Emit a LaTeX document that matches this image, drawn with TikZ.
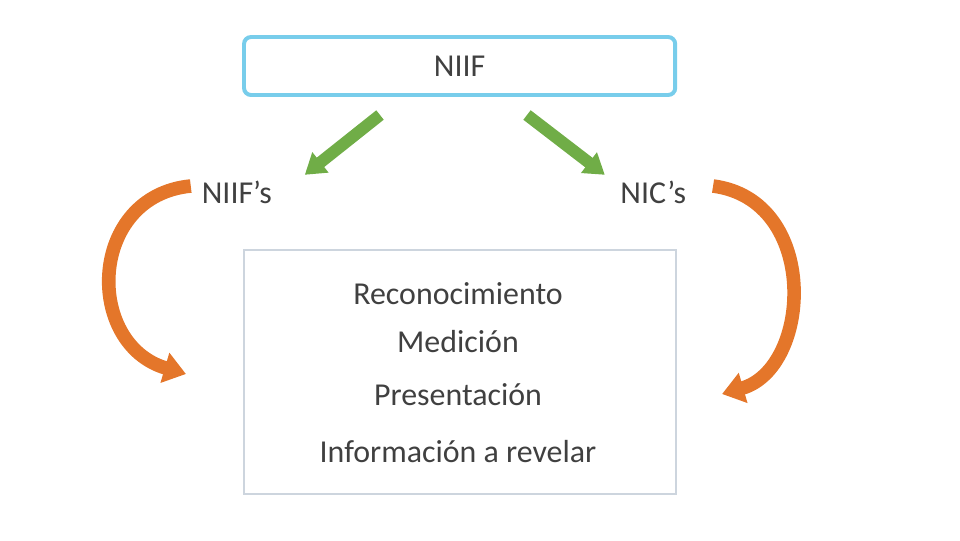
\documentclass[tikz,border=0pt]{standalone}
\usepackage{fontspec}
\setmainfont{Carlito}
\usepackage{xcolor}
\usepackage{tikz}
\usetikzlibrary{arrows.meta,positioning,calc}
\definecolor{textGray}{RGB}{64,64,64}
\definecolor{niifBlue}{RGB}{120,205,235}
\definecolor{boxGray}{RGB}{205,213,222}
\definecolor{arrowGreen}{RGB}{112,173,71}
\definecolor{arrowOrange}{RGB}{228,118,42}
\tikzset{
  titlebox/.style={
    rectangle, rounded corners=5pt, draw=niifBlue, line width=2.8pt,
    fill=white, minimum width=10.78cm, minimum height=1.45cm
  },
  topicbox/.style={
    rectangle, draw=boxGray, line width=1.4pt,
    minimum width=10.8cm, minimum height=6.1cm
  },
  plainlabel/.style={text=textGray, inner sep=2pt,
    font=\fontsize{22.7}{27}\selectfont},
  greenArrow/.style={-{Triangle[length=0.5cm,width=0.62cm]},
    line width=0.3cm, color=arrowGreen},
  orangeArrow/.style={-{Triangle[length=0.55cm,width=0.75cm]},
    line width=0.34cm, color=arrowOrange}
}
\begin{document}
\begin{tikzpicture}
  \useasboundingbox (0,0) rectangle (24,-13.5);
  % titulo
  \node[titlebox, plainlabel] (niif) at (11.49,-1.65) {NIIF};
  % cuadro inferior
  \node[topicbox] (temas) at (11.49,-9.31) {};
  \node[plainlabel] (reco) at (11.45,-7.35) {Reconocimiento};
  \node[plainlabel] (medi) at (11.45,-8.55) {Medición};
  \node[plainlabel] (pres) at (11.45,-9.87) {Presentación};
  \node[plainlabel] (info) at (11.45,-11.3) {Información a revelar};
  % etiquetas
  \node[plainlabel] (niifs) at (5.92,-4.8) {NIIF’s};
  \node[plainlabel] (nics) at (16.33,-4.8) {NIC’s};
  % flechas verdes
  \coordinate (gl) at (9.5,-2.875);
  \coordinate (gr) at (13.175,-2.875);
  \coordinate (gltip) at (7.62,-4.37);
  \coordinate (grtip) at (15.12,-4.37);
  \draw[greenArrow] (gl) -- (gltip);
  \draw[greenArrow] (gr) -- (grtip);
  % flechas curvas
  \coordinate (oltip) at (4.65,-9.35);
  \coordinate (ortip) at (18.05,-9.85);
  \draw[orangeArrow] ([xshift=-0.2cm,yshift=0.15cm]niifs.west) .. controls (2.2,-4.9) and (2.1,-8.6) .. (oltip);
  \draw[orangeArrow] ([xshift=0.6cm,yshift=0.15cm]nics.east) .. controls (20.5,-5.0) and (20.3,-9.2) .. (ortip);
\end{tikzpicture}
\end{document}
